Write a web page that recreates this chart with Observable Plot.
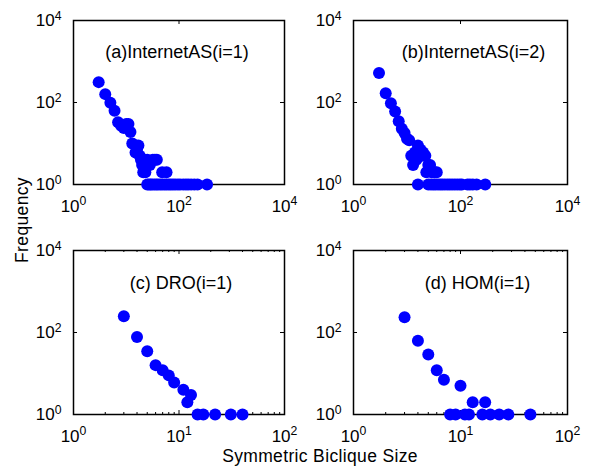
<!DOCTYPE html>
<html><head><meta charset="utf-8">
<script src="https://cdn.jsdelivr.net/npm/d3@7"></script>
<script src="https://cdn.jsdelivr.net/npm/@observablehq/plot@0.6"></script>
<style>
body{margin:0;background:#fff;}
#fig{position:relative;width:597px;height:470px;font-family:"Liberation Sans",Arial,Helvetica,sans-serif;background:#fff;overflow:hidden;}
.panel{position:absolute;}
.lab{position:absolute;font-size:17.5px;color:#000;white-space:nowrap;letter-spacing:0.35px;}
</style></head><body>
<div id="fig"></div>
<script>
// ---- data ----
const titles = ["(a)InternetAS(i=1)", "(b)InternetAS(i=2)", "(c) DRO(i=1)", "(d) HOM(i=1)"];

const aSize = [3,4,5,6,7,8,9,10,11,12,13,15,16,17,18,19,20,21,22,23,25,28,32,35,38,48,58,
  25,27,29,31,34,37,40,44,48,53,58,64,70,77,85,95,105,120,135,150,170,195,225,340];
const aFreq = [314,160,98,63,33,27,24,30,30,19,10,6,7,9,5,4,3,2,4,2,4,3,4,4,4,2,2,
  1,1,1,1,1,1,1,1,1,1,1,1,1,1,1,1,1,1,1,1,1,1,1,1];

const bSize = [3,4,5,6,7,8,9,10,11,12,13,14,15,16,17,18,19,20,22,23,25,27,29,33,36,
  16,25,28,31,34,38,42,46,51,57,63,70,78,87,97,106,135,150,170,200,290];
const bFreq = [527,168,96,60,35,23,18,13,12,5,3,6,4,9,7,7,5,6,5,2,3,3,2,2,2,
  1,1,1,1,1,1,1,1,1,1,1,1,1,1,1,1,1,1,1,1,1];

const cSize = [3,4,5,6,7,8,9,11,13,12,15,17,22,31,40];
const cFreq = [250,78,35,16,12,9,6,4,3,2,1,1,1,1,1];

const dSize = [3,4,5,6,7,10,13,17,8,9,11,12,16,19,23,28,45];
const dFreq = [236,63,29,12,7,5,2,2,1,1,1,1,1,1,1,1,1];

const yTicks = [1, 100, 10000];
const xTicksTop = [1, 100, 10000];
const xTicksBottom = [1, 10, 100];
const xMinorBottom = [2,3,4,5,6,7,8,9,20,30,40,50,60,70,80,90];

const xLabel = "Symmetric Biclique Size";
const yLabel = "Frequency";

// ---- drawing ----
const fig = document.getElementById("fig");
const FONT = '"Liberation Sans",Arial,Helvetica,sans-serif';

function supify(svg) {
  svg.querySelectorAll("text").forEach(t => {
    const m = /^10\^(-?\d+)$/.exec(t.textContent);
    if (m) {
      t.textContent = "10";
      const ts = document.createElementNS("http://www.w3.org/2000/svg", "tspan");
      ts.setAttribute("dy", "-0.5em");
      ts.setAttribute("font-size", "0.72em");
      ts.textContent = m[1];
      t.appendChild(ts);
    }
  });
}

function panel({xs, ys, xDomain, xTicks, xMinor, title, fx, fy, fw, fh, tdx, tdy}) {
  const mL = 55, mR = 25, mT = 12, mB = 40;
  const data = xs.map((x, i) => ({x, y: ys[i]}));
  const fmt = d => "10^" + Math.round(Math.log10(d));
  const marks = [
    Plot.ruleX(xTicks, {x: d => d, insetTop: fh - 4, stroke: "black", strokeWidth: 1}),
    Plot.ruleX(xTicks, {x: d => d, insetBottom: fh - 4, stroke: "black", strokeWidth: 1}),
    Plot.ruleY(yTicks, {y: d => d, insetRight: fw - 4, stroke: "black", strokeWidth: 1}),
    Plot.ruleY(yTicks, {y: d => d, insetLeft: fw - 4, stroke: "black", strokeWidth: 1}),
  ];
  if (xMinor) {
    marks.push(Plot.ruleX(xMinor, {x: d => d, insetTop: fh - 2, stroke: "black", strokeWidth: 1}));
    marks.push(Plot.ruleX(xMinor, {x: d => d, insetBottom: fh - 2, stroke: "black", strokeWidth: 1}));
  }
  marks.push(
    Plot.frame({stroke: "black", strokeWidth: 1.5}),
    Plot.axisX(xTicks, {tickSize: 0, tickPadding: 15, tickFormat: fmt, label: null, fontSize: 17}),
    Plot.axisY(yTicks, {tickSize: 0, tickPadding: 12, tickFormat: fmt, label: null, fontSize: 17}),
    Plot.dot(data, {x: "x", y: "y", r: 6, fill: "#0000ff", stroke: "none"}),
    Plot.text([title], {frameAnchor: "top", text: d => d, dx: tdx, dy: tdy, lineAnchor: "middle", fontSize: 18, fill: "black"})
  );
  const svg = Plot.plot({
    width: fw + mL + mR, height: fh + mT + mB,
    marginLeft: mL, marginRight: mR, marginTop: mT, marginBottom: mB,
    x: {type: "log", domain: xDomain, label: null},
    y: {type: "log", domain: [1, 10000], label: null},
    style: {fontFamily: FONT, fontSize: "17px", background: "transparent", overflow: "visible", color: "black"},
    marks
  });
  supify(svg);
  const div = document.createElement("div");
  div.className = "panel";
  div.style.left = (fx - mL) + "px";
  div.style.top = (fy - mT) + "px";
  div.appendChild(svg);
  fig.appendChild(div);
}

panel({xs: aSize, ys: aFreq, xDomain: [1, 10000], xTicks: xTicksTop, title: titles[0], fx: 73, fy: 20, fw: 211, fh: 164, tdx: -2, tdy: 32});
panel({xs: bSize, ys: bFreq, xDomain: [1, 10000], xTicks: xTicksTop, title: titles[1], fx: 353, fy: 20, fw: 214, fh: 164, tdx: 13, tdy: 32});
panel({xs: cSize, ys: cFreq, xDomain: [1, 100], xTicks: xTicksBottom, xMinor: xMinorBottom, title: titles[2], fx: 73, fy: 250, fw: 211, fh: 164, tdx: 2, tdy: 33});
panel({xs: dSize, ys: dFreq, xDomain: [1, 100], xTicks: xTicksBottom, xMinor: xMinorBottom, title: titles[3], fx: 353, fy: 250, fw: 214, fh: 164, tdx: 17, tdy: 33});

const xl = document.createElement("div");
xl.className = "lab";
xl.textContent = xLabel;
xl.style.left = "320px"; xl.style.top = "456px";
xl.style.transform = "translate(-50%,-50%)";
fig.appendChild(xl);

const yl = document.createElement("div");
yl.className = "lab";
yl.textContent = yLabel;
yl.style.left = "22px"; yl.style.top = "220px";
yl.style.transform = "translate(-50%,-50%) rotate(-90deg)";
fig.appendChild(yl);
</script>
</body></html>
